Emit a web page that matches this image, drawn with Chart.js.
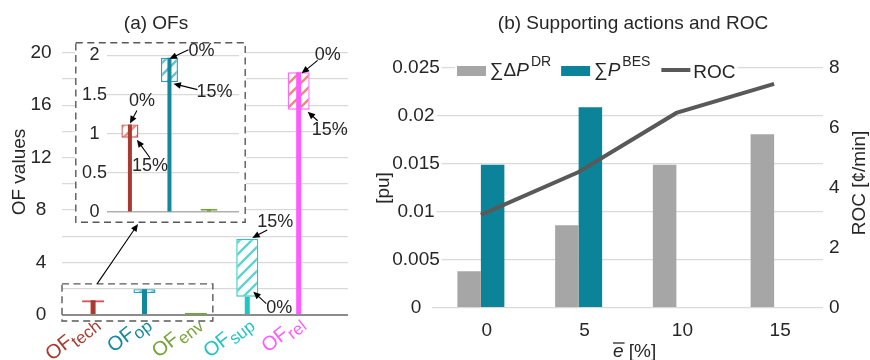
<!DOCTYPE html>
<html>
<head>
<meta charset="utf-8">
<script src="https://cdn.jsdelivr.net/npm/chart.js@4.4.1/dist/chart.umd.min.js"></script>
<style>
  html, body { margin: 0; padding: 0; background: #fff; }
  #wrap { position: relative; width: 870px; height: 360px; overflow: hidden; background: #fff; }
  #wrap canvas { position: absolute; }
  #cMain { left: 0; top: 0; }
  #cInset { left: 75px; top: 42px; background: #fff; }
  #cRight { left: 370px; top: 0; }
</style>
</head>
<body>
<div id="wrap">
  <canvas id="cMain" width="370" height="360"></canvas>
  <canvas id="cInset" width="171" height="181"></canvas>
  <canvas id="cRight" width="500" height="360"></canvas>
</div>
<script>
// ---- (a) objective function values ----
const ofPrefix = 'OF';
const ofNames = ['tech', 'op', 'env', 'sup', 'rel'];
const ofAtZero = [1.12, 1.97, 0.04, 1.40, 18.5];     // value at ē = 0 %
const ofAtFifteen = [0.95, 1.66, 0.02, 5.80, 15.65]; // value at ē = 15 %
const errorCases = ['0%', '15%'];
const insetCount = 3;                                 // objectives repeated in the enlarged view

// ---- (b) supporting actions and ROC ----
const errorLevels = ['0', '5', '10', '15'];
const drPower = [0.0038, 0.0086, 0.0149, 0.0181];
const besPower = [0.0149, 0.0209, 0, 0];
const rocValues = [3.1, 4.53, 6.5, 7.47];
const seriesNames = [['∑Δ', 'P', 'DR'], ['∑', 'P', 'BES'], ['ROC']];

const FONT = "'Liberation Sans', Arial, Helvetica, sans-serif";
const INK = '#262626';
const ofColors = ['#a83b2f', '#13879c', '#77a33b', '#1fc7c0', '#ff5cff'];
const ofEdges  = ['#cf5650', '#2c9fb3', '#77a33b', '#2cc9c2', '#ff6bff'];
const ofHatch  = ['#ea8f88', '#66bfcd', '#9cc26a', '#5ad6d0', '#ee8a7a'];

Chart.defaults.font.family = FONT;
Chart.defaults.color = INK;

const tidy = v => String(+Number(v).toFixed(4));

function hatch(target, color) {
  const s = 12;
  const c = document.createElement('canvas');
  c.width = s; c.height = s;
  const g = c.getContext('2d');
  g.fillStyle = '#fff';
  g.fillRect(0, 0, s, s);
  g.strokeStyle = color;
  g.lineWidth = 2.4;
  g.beginPath();
  g.moveTo(-2, s + 2); g.lineTo(s + 2, -2);
  g.moveTo(-2, 2); g.lineTo(2, -2);
  g.moveTo(s - 2, s + 2); g.lineTo(s + 2, s - 2);
  g.stroke();
  return target.getContext('2d').createPattern(c, 'repeat');
}

function arrow(ctx, x1, y1, x2, y2) {
  const a = Math.atan2(y2 - y1, x2 - x1), L = 7.5, W = 3.3;
  ctx.save();
  ctx.strokeStyle = '#000';
  ctx.fillStyle = '#000';
  ctx.lineWidth = 1.1;
  ctx.beginPath();
  ctx.moveTo(x1, y1);
  ctx.lineTo(x2 - L * 0.8 * Math.cos(a), y2 - L * 0.8 * Math.sin(a));
  ctx.stroke();
  ctx.beginPath();
  ctx.moveTo(x2, y2);
  ctx.lineTo(x2 - L * Math.cos(a) + W * Math.sin(a), y2 - L * Math.sin(a) - W * Math.cos(a));
  ctx.lineTo(x2 - L * Math.cos(a) - W * Math.sin(a), y2 - L * Math.sin(a) + W * Math.cos(a));
  ctx.closePath();
  ctx.fill();
  ctx.restore();
}

// percentage call-outs: tip is relative to (bar centre, value pixel); tail and text relative to the tip
function drawNotes(chart, notes) {
  const { ctx, scales: { x, y } } = chart;
  notes.forEach(n => {
    const v = n.at === 0 ? ofAtZero[n.i] : ofAtFifteen[n.i];
    const tx = x.getPixelForValue(n.i) + n.tip[0];
    const ty = y.getPixelForValue(v) + n.tip[1];
    arrow(ctx, tx + n.tail[0], ty + n.tail[1], tx, ty);
    ctx.save();
    ctx.font = `18px ${FONT}`;
    ctx.fillStyle = INK;
    ctx.textAlign = 'center';
    ctx.textBaseline = 'middle';
    ctx.fillText(errorCases[n.at], tx + n.text[0], ty + n.text[1]);
    ctx.restore();
  });
}

function dashedRect(ctx, x0, y0, x1, y1) {
  ctx.save();
  ctx.strokeStyle = '#595959';
  ctx.lineWidth = 1.4;
  ctx.setLineDash([7, 4.5]);
  ctx.strokeRect(x0, y0, x1 - x0, y1 - y0);
  ctx.restore();
}

function ofDatasets(count, stem, box, target) {
  const idx = ofNames.slice(0, count).map((_, i) => i);
  return [
    { // solid stem up to the 0 % value
      data: idx.map(i => ({ x: i, y: ofAtZero[i] })),
      backgroundColor: idx.map(i => ofColors[i]),
      grouped: false, maxBarThickness: stem, borderWidth: 0
    },
    { // hatched range between the 15 % and 0 % values
      data: idx.map(i => ({ x: i, y: [ofAtFifteen[i], ofAtZero[i]] })),
      backgroundColor: idx.map(i => hatch(target, ofHatch[i])),
      borderColor: idx.map(i => ofEdges[i]),
      borderWidth: 1.4, borderSkipped: false,
      grouped: false, maxBarThickness: box, minBarLength: 2
    }
  ];
}

// ---------------- main OF chart ----------------
const mainCanvas = document.getElementById('cMain');
const mainNotes = [
  { i: 3, at: 1, tip: [5, -1],  tail: [15, -8],  text: [23, -16] },
  { i: 3, at: 0, tip: [6, -5],  tail: [13, 12],  text: [26, 16] },
  { i: 4, at: 0, tip: [3, 1],   tail: [16, -13], text: [26, -18] },
  { i: 4, at: 1, tip: [9, 2],   tail: [10, 9],   text: [22, 18] }
];

new Chart(mainCanvas, {
  type: 'bar',
  data: { datasets: ofDatasets(ofNames.length, 5, 22, mainCanvas) },
  options: {
    responsive: false, animation: false, devicePixelRatio: 1,
    layout: { padding: { top: 52.7, right: 22, bottom: 0, left: 0 }, autoPadding: false },
    plugins: { legend: { display: false }, tooltip: { enabled: false } },
    scales: {
      x: {
        type: 'linear', min: -0.605, max: 4.96, offset: false,
        grid: { display: false }, border: { display: false }, ticks: { display: false },
        afterFit: s => { s.height = 45; }
      },
      y: {
        min: 0, max: 20,
        ticks: {
          stepSize: 2, padding: 10.4, crossAlign: 'center', color: INK,
          font: { size: 19 },
          callback: v => (v % 4 === 0 ? tidy(v) : '')
        },
        grid: {
          drawTicks: false,
          color: c => (c.tick.value === 0 ? '#8c8c8c' : '#d9d9d9'),
          lineWidth: c => (c.tick.value === 0 ? 2 : 1.2)
        },
        border: { display: false },
        afterFit: s => { s.width = 62; }
      }
    }
  },
  plugins: [{
    id: 'ofDecor',
    afterDraw(chart) {
      const { ctx, scales: { x, y } } = chart;
      ctx.save();
      ctx.fillStyle = INK;
      ctx.font = `19px ${FONT}`;
      ctx.textAlign = 'center';
      ctx.textBaseline = 'middle';
      ctx.fillText('(a) OFs', 156, 24);
      ctx.save();
      ctx.translate(20, 172);
      ctx.rotate(-Math.PI / 2);
      ctx.fillText('OF values', 0, 0);
      ctx.restore();

      // category names with subscripts, slanted
      ofNames.forEach((name, i) => {
        ctx.save();
        ctx.translate(x.getPixelForValue(i) + 1, 318);
        ctx.rotate(-38 * Math.PI / 180);
        ctx.fillStyle = ofColors[i];
        ctx.textAlign = 'right';
        ctx.textBaseline = 'alphabetic';
        ctx.font = `17px ${FONT}`;
        const sw = ctx.measureText(name).width;
        ctx.fillText(name, 0, 13);
        ctx.font = `20px ${FONT}`;
        ctx.fillText(ofPrefix, -sw, 8);
        ctx.restore();
      });

      // frame around the small objectives and the pointer to the enlarged view
      const left = chart.chartArea.left;
      const right = x.getPixelForValue(2.33);
      const top = y.getPixelForValue(2.37);
      const bottom = y.getPixelForValue(0) + 6;
      dashedRect(ctx, left, top, right, bottom);
      arrow(ctx, x.getPixelForValue(0) + 4, top, 138, 224);
      ctx.restore();

      drawNotes(chart, mainNotes);
    }
  }]
});

// ---------------- enlarged view of the small objectives ----------------
const insetCanvas = document.getElementById('cInset');
const insetNotes = [
  { i: 0, at: 0, tip: [0, -1],  tail: [7, -13], text: [12, -22.5] },
  { i: 0, at: 1, tip: [7, 2],   tail: [13, 18], text: [13, 26] },
  { i: 1, at: 0, tip: [0, 1],   tail: [19, -9], text: [32, -7.5] },
  { i: 1, at: 1, tip: [4, 1.5], tail: [24, 6],  text: [41, 8] }
];

new Chart(insetCanvas, {
  type: 'bar',
  data: { datasets: ofDatasets(insetCount, 4, 17, insetCanvas) },
  options: {
    responsive: false, animation: false, devicePixelRatio: 1,
    layout: { padding: { top: 13.5, right: 7, bottom: 0, left: 0 }, autoPadding: false },
    plugins: { legend: { display: false }, tooltip: { enabled: false } },
    scales: {
      x: {
        type: 'linear', min: -0.58, max: 2.76, offset: false,
        grid: { display: false }, border: { display: false }, ticks: { display: false },
        afterFit: s => { s.height = 8; }
      },
      y: {
        min: 0, max: 2,
        ticks: { stepSize: 0.5, padding: 0, crossAlign: 'center', color: INK, font: { size: 18 },
                 callback: v => tidy(v) },
        grid: {
          drawTicks: false,
          color: c => (c.tick.value === 0 ? '#b0b0b0' : '#d9d9d9'),
          lineWidth: c => (c.tick.value === 0 ? 1.6 : 1.2)
        },
        border: { display: false },
        afterFit: s => { s.width = 32; }
      }
    }
  },
  plugins: [{
    id: 'insetDecor',
    afterDraw(chart) {
      dashedRect(chart.ctx, 0.8, 0.8, chart.width - 0.8, chart.height - 0.8);
      drawNotes(chart, insetNotes);
    }
  }]
});

// ---------------- (b) supporting actions and ROC ----------------
const rightCanvas = document.getElementById('cRight');
const drColor = '#a6a6a6', besColor = '#0b8499', rocColor = '#595959';

new Chart(rightCanvas, {
  type: 'bar',
  data: {
    labels: errorLevels,
    datasets: [
      { type: 'line', label: 'ROC', data: rocValues, yAxisID: 'y2',
        borderColor: rocColor, borderWidth: 4, pointRadius: 0, tension: 0, fill: false },
      { label: 'DR', data: drPower, backgroundColor: drColor, yAxisID: 'y' },
      { label: 'BES', data: besPower, backgroundColor: besColor, yAxisID: 'y' }
    ]
  },
  options: {
    responsive: false, animation: false, devicePixelRatio: 1,
    layout: { padding: { top: 68, right: 0, bottom: 0, left: 0 }, autoPadding: false },
    datasets: { bar: { categoryPercentage: 0.481, barPercentage: 1 } },
    plugins: { legend: { display: false }, tooltip: { enabled: false } },
    scales: {
      x: {
        grid: { display: false }, border: { display: false },
        ticks: { font: { size: 19 }, color: INK, padding: 4, labelOffset: 6, maxRotation: 0 },
        afterFit: s => { s.height = 52.3; }
      },
      y: {
        position: 'left', min: 0, max: 0.025,
        // labels are painted by the plugin below so they may overhang the plot edge
        ticks: { stepSize: 0.005, display: false },
        grid: { drawTicks: false, color: '#d9d9d9', lineWidth: 1.3 },
        border: { display: false },
        afterFit: s => { s.width = 62; }
      },
      y2: {
        position: 'right', min: 0, max: 8,
        ticks: { stepSize: 2, padding: 6, crossAlign: 'center', color: INK, font: { size: 19 } },
        grid: { display: false, drawTicks: false },
        border: { display: false },
        afterFit: s => { s.width = 47; }
      }
    }
  },
  plugins: [{
    id: 'rocDecor',
    beforeDatasetsDraw(chart) {
      // left value labels with a white backing so grid lines stop at the text
      const { ctx, scales: { y } } = chart;
      ctx.save();
      ctx.font = `19px ${FONT}`;
      ctx.textAlign = 'center';
      ctx.textBaseline = 'middle';
      y.ticks.forEach(t => {
        const label = tidy(t.value);
        const py = y.getPixelForValue(t.value);
        const w = ctx.measureText(label).width;
        ctx.fillStyle = '#fff';
        ctx.fillRect(46 - w / 2 - 1, py - 4, w + 3, 8);
        ctx.fillStyle = INK;
        ctx.fillText(label, 46, py);
      });
      ctx.restore();
    },
    afterDraw(chart) {
      const { ctx } = chart;
      ctx.save();
      ctx.fillStyle = INK;
      ctx.textBaseline = 'middle';
      ctx.textAlign = 'center';
      ctx.font = `19px ${FONT}`;
      ctx.fillText('(b) Supporting actions and ROC', 263, 24);

      ctx.save();
      ctx.translate(14, 188);
      ctx.rotate(-Math.PI / 2);
      ctx.fillText('[pu]', 0, 0);
      ctx.restore();

      ctx.save();
      ctx.translate(490, 183);
      ctx.rotate(-Math.PI / 2);
      ctx.fillText('ROC [¢/min]', 0, 0);
      ctx.restore();

      // axis title: ē [%]
      ctx.textAlign = 'left';
      ctx.textBaseline = 'alphabetic';
      ctx.font = `italic 19px ${FONT}`;
      const ex = 243, ey = 357;
      const ew = ctx.measureText('e').width;
      ctx.fillText('e', ex, ey);
      ctx.strokeStyle = INK;
      ctx.lineWidth = 1.3;
      ctx.beginPath();
      ctx.moveTo(ex, 343); ctx.lineTo(ex + ew + 1, 343);
      ctx.stroke();
      ctx.font = `19px ${FONT}`;
      ctx.fillText(' [%]', ex + ew, ey);

      // legend with rich labels
      const swatches = [drColor, besColor, rocColor];
      const startX = 87, base = 76;
      let cx = startX;
      const parts = [];
      seriesNames.forEach((nm, k) => {
        parts.push({ k, x: cx });
        cx += 29 + 4;
        ctx.font = `19px ${FONT}`;
        let w = ctx.measureText(nm[0]).width;
        if (nm.length > 1) {
          ctx.font = `italic 19px ${FONT}`;
          w += ctx.measureText(nm[1]).width + 2;
          ctx.font = `14px ${FONT}`;
          w += ctx.measureText(nm[2]).width;
        }
        cx += w + 10;
      });
      ctx.fillStyle = '#fff';
      ctx.fillRect(startX - 2, 55, cx - startX - 6, 26);

      parts.forEach(({ k, x }) => {
        const nm = seriesNames[k];
        if (k < 2) {
          ctx.fillStyle = swatches[k];
          ctx.fillRect(x, 66, 29, 10);
        } else {
          ctx.strokeStyle = swatches[k];
          ctx.lineWidth = 4;
          ctx.beginPath();
          ctx.moveTo(x + 1, 70); ctx.lineTo(x + 30, 70);
          ctx.stroke();
        }
        let tx = x + 33;
        ctx.fillStyle = INK;
        ctx.font = `19px ${FONT}`;
        ctx.fillText(nm[0], tx, k < 2 ? base : base + 2);
        tx += ctx.measureText(nm[0]).width;
        if (nm.length > 1) {
          ctx.font = `italic 19px ${FONT}`;
          ctx.fillText(nm[1], tx, base);
          tx += ctx.measureText(nm[1]).width + 2;
          ctx.font = `14px ${FONT}`;
          ctx.fillText(nm[2], tx, base - 10);
        }
      });
      ctx.restore();
    }
  }]
});
</script>
</body>
</html>
